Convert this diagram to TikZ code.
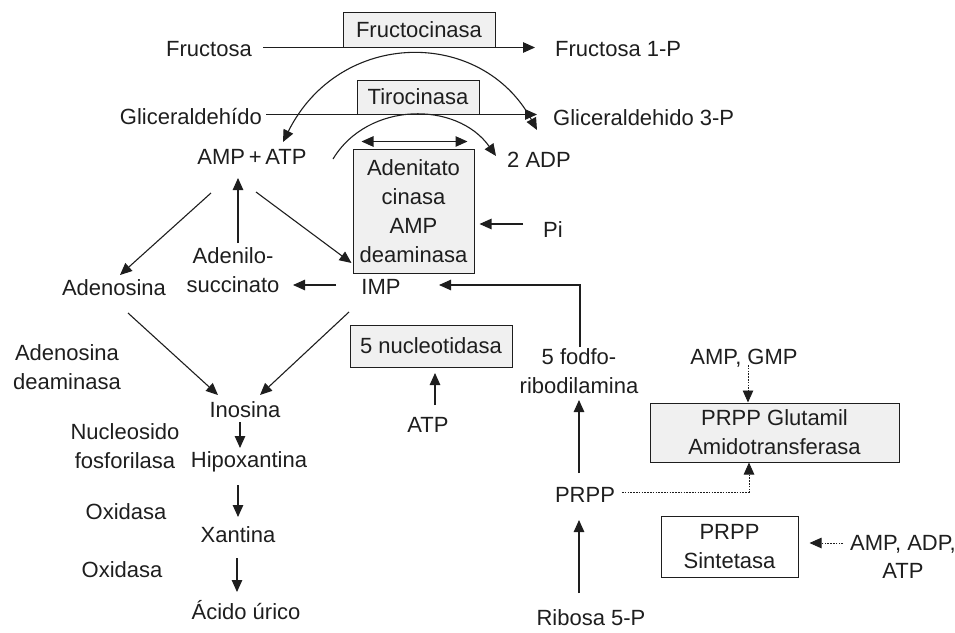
\documentclass[tikz,border=0pt]{standalone}
\usepackage{fontspec}
\setmainfont{Liberation Sans}
\usetikzlibrary{arrows.meta}
\definecolor{ink}{HTML}{1E1E1E}
\definecolor{boxfill}{HTML}{F0F0F0}
\begin{document}
\begin{tikzpicture}[x=1pt,y=-1pt,
  txt/.style={inner sep=0pt, text height=15.5pt, text depth=0pt, font=\fontsize{22}{28.5}\selectfont, text=ink},
  mtxt/.style={inner sep=0pt, align=center, font=\fontsize{22}{28.5}\selectfont, text=ink},
  enz/.style={draw=ink, fill=boxfill, line width=1pt, inner sep=0pt, align=center, font=\fontsize{22}{29}\selectfont, text=ink},
  arr/.style={-{Triangle[length=12pt,width=10.5pt]}, line width=1.1pt, draw=ink},
  dbl/.style={{Triangle[length=12pt,width=10.5pt]}-{Triangle[length=12pt,width=10.5pt]}, line width=1.1pt, draw=ink},
  dotarr/.style={arr, line width=0.9pt, dash pattern=on 1.6pt off 1.2pt}
]
\useasboundingbox (0,0) rectangle (955,632);

% enzyme boxes
\node[enz, minimum width=152pt, minimum height=35pt] (fbox) at (419,29.5) {Fructocinasa};
\node[enz, minimum width=122pt, minimum height=34pt] (tbox) at (418,97) {Tirocinasa};
\node[enz, minimum width=121pt, minimum height=124pt] (abox) at (413.5,211) {Adenitato\\cinasa\\AMP\\deaminasa};
\node[enz, minimum width=162pt, minimum height=42pt] (nbox) at (431,346) {5 nucleotidasa};
\node[enz, minimum width=249pt, minimum height=59pt] (gbox) at (774.5,432.5) {PRPP Glutamil\\Amidotransferasa};
\node[enz, fill=white, minimum width=137pt, minimum height=61pt] (sbox) at (729.5,546.5) {PRPP\\Sintetasa};

% labels
\node[txt, anchor=east] (fructosa) at (252,49) {Fructosa};
\node[txt, anchor=west] (fruc1p) at (555,49) {Fructosa 1-P};
\node[txt, anchor=east] (glic) at (262,117) {Gliceraldehído};
\node[txt, anchor=west] (glic3p) at (553,118) {Gliceraldehido 3-P};
\node[txt] (ampatp) at (252,157) {AMP\,+\,ATP};
\node[txt, anchor=west] (adp) at (507,160) {2 ADP};
\node[txt, anchor=west] (pi) at (543,230) {Pi};
\node[txt] (adenosina) at (114,288) {Adenosina};
\node[mtxt] (adenilo) at (233,270) {Adenilo-\\succinato};
\node[txt] (imp) at (381,287) {IMP};
\node[mtxt] (adeam) at (67,367) {Adenosina\\deaminasa};
\node[txt] (inosina) at (245,410) {Inosina};
\node[mtxt] (nucleos) at (125,446) {Nucleosido\\fosforilasa};
\node[txt] (hipox) at (249,460) {Hipoxantina};
\node[txt] (oxid1) at (126,512) {Oxidasa};
\node[txt] (xantina) at (238,535) {Xantina};
\node[txt] (oxid2) at (122,570) {Oxidasa};
\node[txt] (acido) at (246,612) {Ácido úrico};
\node[txt] (atp) at (428,425) {ATP};
\node[mtxt] (fodfo) at (579,371) {5 fodfo-\\ribodilamina};
\node[txt] (ampgmp) at (744,357) {AMP, GMP};
\node[txt] (prpp) at (585,495) {PRPP};
\node[txt] (ribosa) at (591,618) {Ribosa 5-P};
\node[mtxt] (ampadp) at (903,557) {AMP, ADP,\\ATP};

% connector end points
\coordinate (arcL) at (283,142);
\coordinate (arcR) at (537,130);
\coordinate (arc2a) at (333,159);
\coordinate (arc2b) at (496,156);

% top reactions
\draw[arr] ([xshift=11pt]fructosa.east |- fbox.south) -- ([xshift=-20pt]fruc1p.west |- fbox.south);
\draw[arr] ([xshift=4pt]glic.east |- tbox.south) -- ([xshift=-16pt]glic3p.west |- tbox.south);
\draw[dbl] (arcL) .. controls (340,28) and (482,28) .. (arcR);
\draw[arr] (arc2a) .. controls (368,101) and (457,101) .. (arc2b);
\draw[dbl] ([shift={(9,-7)}]abox.north west) -- ([shift={(-7,-7)}]abox.north east);

% purine cycle
\draw[arr] ([shift={(-41,36)}]ampatp.center) -- ([shift={(6,-13)}]adenosina.center);
\draw[arr] ([shift={(5,-27)}]adenilo.center) -- ([shift={(-14,21)}]ampatp.center);
\draw[arr] ([shift={(4,35)}]ampatp.center) -- ([shift={(-1,52)}]abox.west);
\draw[arr] ([shift={(-45,-2)}]imp.center) -- ([shift={(-88,-2)}]imp.center);
\draw[arr] ([shift={(-20,-6)}]pi.west) -- ([shift={(5,13)}]abox.east);
\draw[arr] ([shift={(1,-24)}]fodfo.center) |- ([shift={(58,-2)}]imp.center);
\draw[arr] ([shift={(14,25)}]adenosina.center) -- ([shift={(-27,-15)}]inosina.center);
\draw[arr] ([shift={(-32,25)}]imp.center) -- ([shift={(15,-15)}]inosina.center);
\draw[arr] ([shift={(-5,12)}]inosina.center) -- ([shift={(-9,-12)}]hipox.center);
\draw[arr] ([shift={(-11,25)}]hipox.center) -- ([shift={(0,-18)}]xantina.center);
\draw[arr] ([shift={(-1,23)}]xantina.center) -- ([shift={(-9,-20)}]acido.center);
\draw[arr] ([shift={(7,-20)}]atp.center) -- ([shift={(7,-52)}]atp.center);

% PRPP branch
\draw[arr] ([shift={(-6,-22)}]prpp.center) -- ([shift={(0,29)}]fodfo.center);
\draw[arr] ([shift={(-12,-25)}]ribosa.center) -- ([shift={(-6,25)}]prpp.center);
\draw[dotarr] ([shift={(4,8)}]ampgmp.center) -- ([xshift=-26.5pt]gbox.north);
\draw[dotarr] ([shift={(37,-3)}]prpp.center) -| ([xshift=-25.5pt]gbox.south);
\draw[dotarr] ([shift={(-7,-14)}]ampadp.west) -- ([shift={(11,-3.5)}]sbox.east);
\end{tikzpicture}
\end{document}
